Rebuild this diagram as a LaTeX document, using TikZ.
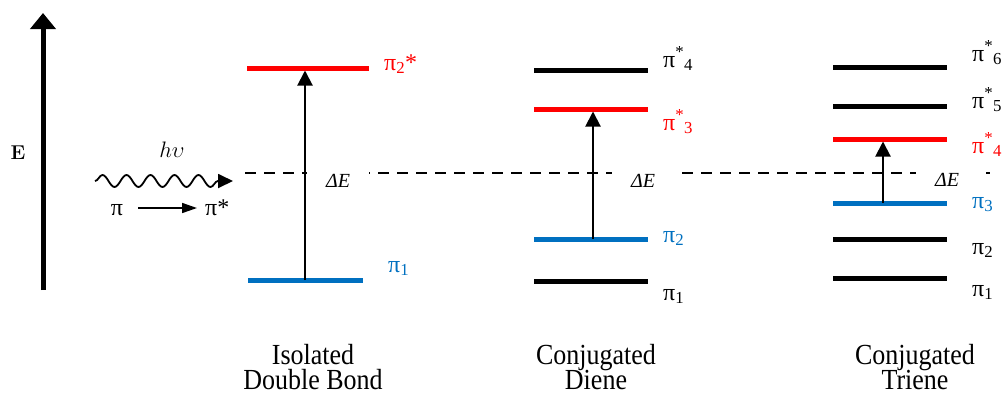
\documentclass[tikz,border=0pt]{standalone}
\usepackage{fontspec}
\usepackage{graphicx}
\setmainfont{Liberation Serif}
\newfontfamily\lmfont{Latin Modern Roman}
\usetikzlibrary{arrows.meta,decorations.pathmorphing}
\definecolor{lvred}{RGB}{255,0,0}
\definecolor{lvblue}{RGB}{0,112,192}
\begin{document}
\begin{tikzpicture}[x=1pt,y=-1pt,
  level/.style={line width=5pt},
  lab/.style={anchor=base west, inner sep=0pt, font=\fontsize{24}{28}\selectfont},
  delab/.style={fill=white, inner sep=0pt, minimum width=62pt, minimum height=20pt, font=\fontsize{20}{24}\selectfont\itshape},
  trans/.style={line width=2pt, -{Triangle[width=15pt,length=15pt]}},
  capt/.style={anchor=base, inner sep=0pt, font=\fontsize{26}{30}\selectfont}
]
\useasboundingbox (0,0) rectangle (1003,392);

% energy axis
\coordinate (ebot) at (43,290);
\coordinate (etop) at (43,13);
\draw[line width=5pt, -{Triangle[width=25pt,length=16pt]}] (ebot) -- (etop);
\node[anchor=base, inner sep=0pt, font=\fontsize{20}{22}\lmfont\bfseries] (elab) at (18,159.5) {E};

% photon
\node[anchor=base, inner sep=0pt, font=\fontsize{20.74}{24}\selectfont] (hv) at (172,157) {\scalebox{1.08}{$h\upsilon$}};
\coordinate (ws) at (95,181);
\coordinate (we) at (233,181);
\draw[line width=1.8pt, decorate, decoration={snake, segment length=24pt, amplitude=6pt, post length=10pt}, -{Triangle[width=14pt,length=15pt]}] (ws) -- (we);

\node[anchor=base, inner sep=0pt, font=\fontsize{24}{28}\selectfont] (pil) at (117,215) {π};
\node[lab] (pir) at (205,215) {π*};
\draw[line width=1.6pt, -{Triangle[width=10pt,length=15pt]}, shorten <=15pt, shorten >=8pt] ([yshift=7pt]pil.base east) -- ([yshift=7pt]pir.base west);

% dashed reference line
\coordinate (dl) at (245,173);
\coordinate (dr) at (990,173);
\draw[line width=1.3pt, dash pattern=on 11pt off 8pt] (dl) -- (dr);
\node[delab] (de1) at (338,181) {ΔE};
\node[delab] (de2) at (643,181) {ΔE};
\node[delab] (de3) at (947,180) {ΔE};

% isolated double bond
\coordinate (iaL) at (247,68);  \coordinate (iaR) at (369,68);
\coordinate (ibL) at (248,280); \coordinate (ibR) at (363,280);
\draw[level, lvred]  (iaL) -- (iaR);
\draw[level, lvblue] (ibL) -- (ibR);
\coordinate (itop) at (305,70.5);
\coordinate (ibot) at (305,280);
\draw[trans] (ibot) -- (itop);
\node[lab, text=lvred]  (ila) at (384,70)  {π\textsubscript{2}*};
\node[lab, text=lvblue] (ilb) at (388,272) {π\textsubscript{1}};

% conjugated diene
\coordinate (daL) at (534,70);  \coordinate (daR) at (648,70);
\coordinate (dbL) at (534,109); \coordinate (dbR) at (648,109);
\coordinate (dcL) at (534,239); \coordinate (dcR) at (648,239);
\coordinate (ddL) at (534,281); \coordinate (ddR) at (648,281);
\draw[level] (daL) -- (daR);
\draw[level, lvred] (dbL) -- (dbR);
\draw[level, lvblue] (dcL) -- (dcR);
\draw[level] (ddL) -- (ddR);
\coordinate (dtop) at (593,111.5);
\coordinate (dbot) at (593,239);
\draw[trans] (dbot) -- (dtop);
\node[lab] (dla) at (663,67) {π\textsuperscript{*}\textsubscript{4}};
\node[lab, text=lvred] (dlb) at (663,130) {π\textsuperscript{*}\textsubscript{3}};
\node[lab, text=lvblue] (dlc) at (663,242) {π\textsubscript{2}};
\node[lab] (dld) at (663,300) {π\textsubscript{1}};

% conjugated triene
\coordinate (taL) at (833,67);  \coordinate (taR) at (947,67);
\coordinate (tbL) at (833,106); \coordinate (tbR) at (947,106);
\coordinate (tcL) at (833,139); \coordinate (tcR) at (947,139);
\coordinate (tdL) at (833,203); \coordinate (tdR) at (947,203);
\coordinate (teL) at (833,239); \coordinate (teR) at (947,239);
\coordinate (tfL) at (833,278); \coordinate (tfR) at (947,278);
\draw[level] (taL) -- (taR);
\draw[level] (tbL) -- (tbR);
\draw[level, lvred] (tcL) -- (tcR);
\draw[level, lvblue] (tdL) -- (tdR);
\draw[level] (teL) -- (teR);
\draw[level] (tfL) -- (tfR);
\coordinate (ttop) at (883,141.5);
\coordinate (tbot) at (883,203);
\draw[trans] (tbot) -- (ttop);
\node[lab] (tla) at (972,61) {π\textsuperscript{*}\textsubscript{6}};
\node[lab] (tlb) at (972,108) {π\textsuperscript{*}\textsubscript{5}};
\node[lab, text=lvred] (tlc) at (972,153) {π\textsuperscript{*}\textsubscript{4}};
\node[lab, text=lvblue] (tld) at (972,208) {π\textsubscript{3}};
\node[lab] (tle) at (972,254) {π\textsubscript{2}};
\node[lab] (tlf) at (972,296) {π\textsubscript{1}};

% captions
\node[capt] (c1a) at (313,364) {\scalebox{1}[1.12]{Isolated}};
\node[capt] (c1b) at (313,389) {\scalebox{1}[1.12]{Double Bond}};
\node[capt] (c2a) at (596,364) {\scalebox{1}[1.12]{Conjugated}};
\node[capt] (c2b) at (596,389) {\scalebox{1}[1.12]{Diene}};
\node[capt] (c3a) at (915,364) {\scalebox{1}[1.12]{Conjugated}};
\node[capt] (c3b) at (915,389) {\scalebox{1}[1.12]{Triene}};
\end{tikzpicture}
\end{document}
